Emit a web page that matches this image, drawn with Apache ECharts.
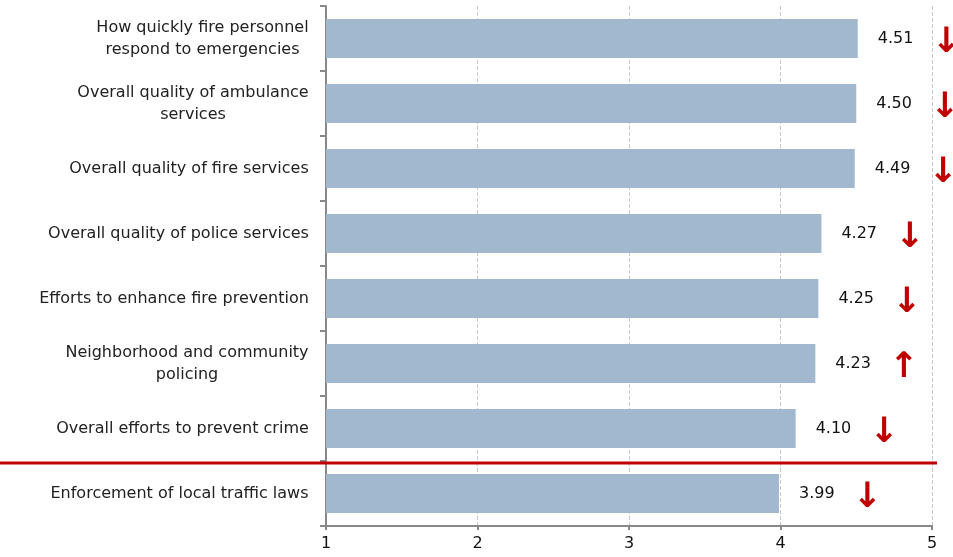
<!DOCTYPE html>
<html>
<head>
<meta charset="utf-8">
<script src="https://cdn.jsdelivr.net/npm/echarts@6/dist/echarts.min.js"></script>
<style>
  html, body { margin: 0; padding: 0; background: #fff; }
  #chart { width: 953px; height: 557px; }
</style>
</head>
<body>
<div id="chart"></div>
<script>
const categories = [
  'How quickly fire personnel\nrespond to emergencies',
  'Overall quality of ambulance\nservices',
  'Overall quality of fire services',
  'Overall quality of police services',
  'Efforts to enhance fire prevention',
  'Neighborhood and community\npolicing',
  'Overall efforts to prevent crime',
  'Enforcement of local traffic laws'
];
const scores = [4.51, 4.50, 4.49, 4.27, 4.25, 4.23, 4.10, 3.99];
const trends = ['down', 'down', 'down', 'down', 'down', 'up', 'down', 'down'];
const xTicks = [1, 2, 3, 4, 5];
// the red divider sits after this many categories
const dividerAfter = 7;

const FONT = 'DejaVu Sans';
const LABEL_SIZE = 16;

// measure label lines so wrapped labels can be centred within their own block
const ctx = document.createElement('canvas').getContext('2d');
ctx.font = LABEL_SIZE + 'px ' + FONT;
const rich = {};
categories.forEach((c, i) => {
  const w = Math.max(...c.split('\n').map(s => ctx.measureText(s).width));
  rich['c' + i] = { width: Math.ceil(w), align: 'center', fontFamily: FONT, fontSize: LABEL_SIZE, color: '#222', lineHeight: 22 };
});

const chart = echarts.init(document.getElementById('chart'));
chart.setOption({
  animation: false,
  grid: { left: 326, right: 21, top: 6, bottom: 31 },
  xAxis: {
    type: 'value', min: 1, max: 5, interval: 1,
    axisLine: { show: true, lineStyle: { color: '#888', width: 2 } },
    axisTick: { show: true, length: 4, lineStyle: { color: '#888', width: 2 } },
    axisLabel: { color: '#111', fontFamily: FONT, fontSize: 16, margin: 10,
      formatter: v => xTicks.includes(v) ? String(v) : '' },
    splitLine: { show: true, lineStyle: { color: '#c8c8c8', type: 'dashed', width: 1 } }
  },
  yAxis: {
    type: 'category', data: categories, inverse: true,
    axisLine: { show: true, lineStyle: { color: '#888', width: 2 } },
    axisTick: { show: true, length: 6, lineStyle: { color: '#888', width: 2 } },
    axisLabel: {
      margin: 17, rich: rich,
      formatter: (v, i) => v.split('\n').map(s => '{c' + i + '|' + s + '}').join('\n')
    }
  },
  series: [{
    type: 'bar', data: scores, barWidth: '60%',
    itemStyle: { color: '#a2b8cf' },
    label: {
      show: true, position: 'right', distance: 20,
      formatter: p => '{v|' + p.value.toFixed(2) + '}{a|' + (trends[p.dataIndex] === 'up' ? '↑' : '↓') + '}',
      rich: {
        v: { fontFamily: FONT, fontSize: 16, color: '#111', padding: [0, 18, 0, 0] },
        a: { fontFamily: FONT, fontSize: 35, fontWeight: 'bold', color: '#c00000', padding: [8, 0, 0, 0] }
      }
    }
  }]
});

// red divider between the last two categories, placed from the category scale
const yA = chart.convertToPixel({ yAxisIndex: 0 }, dividerAfter - 1);
const yB = chart.convertToPixel({ yAxisIndex: 0 }, dividerAfter);
const xEnd = chart.convertToPixel({ xAxisIndex: 0 }, 5) + 5;
const yLine = (yA + yB) / 2 + 2;
chart.setOption({
  graphic: [{
    type: 'line', z: 100,
    shape: { x1: 0, y1: yLine, x2: xEnd, y2: yLine },
    style: { stroke: '#c00000', lineWidth: 3 }
  }]
});
</script>
</body>
</html>
